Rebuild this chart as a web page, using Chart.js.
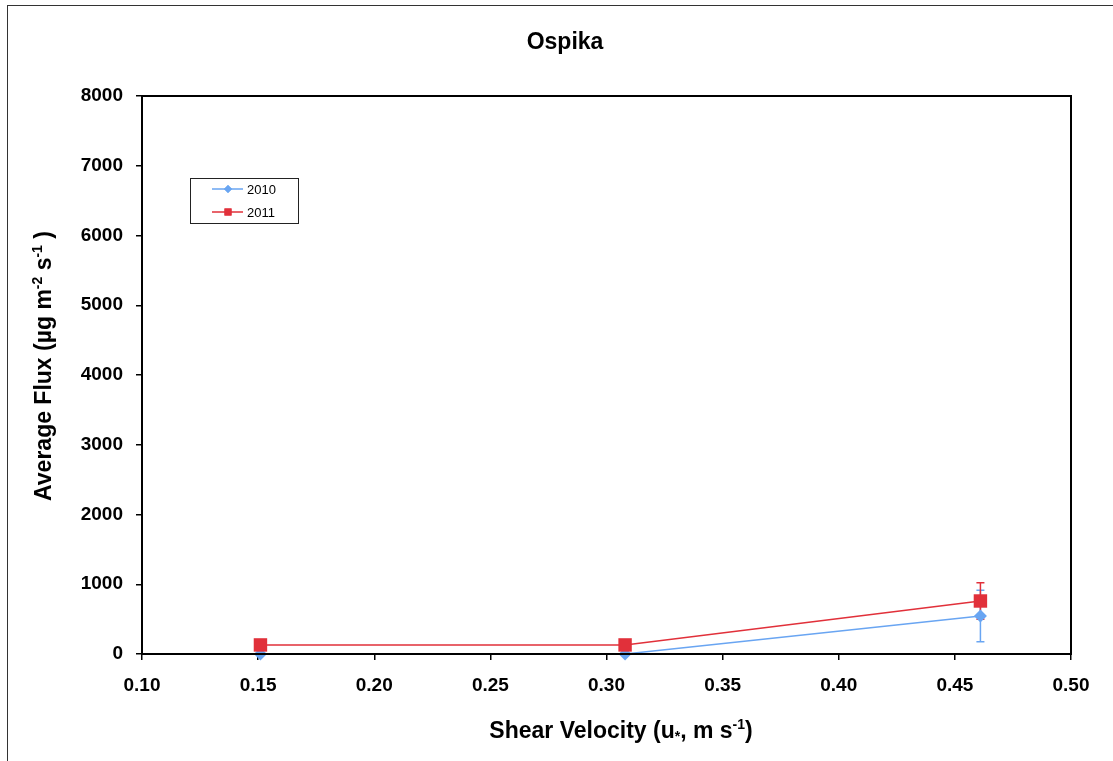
<!DOCTYPE html>
<html>
<head>
<meta charset="utf-8">
<style>
  html, body { margin: 0; padding: 0; background: #ffffff; }
  #wrap { position: relative; width: 1113px; height: 761px; }
  canvas { display: block; }
</style>
<script src="https://cdn.jsdelivr.net/npm/chart.js@4.4.1/dist/chart.umd.min.js"></script>
</head>
<body>
<div id="wrap"><canvas id="c" width="1113" height="761"></canvas></div>
<script>
// Shear velocity (m/s) and average flux (µg m-2 s-1) per year
const velocity2010 = [0.151, 0.308, 0.461];
const flux2010     = [0, 0, 545];
const err2010      = [0, 0, 370];

const velocity2011 = [0.151, 0.308, 0.461];
const flux2011     = [130, 130, 760];
const err2011      = [0, 0, 260];

const xTicks = [0.10, 0.15, 0.20, 0.25, 0.30, 0.35, 0.40, 0.45, 0.50];
const yTicks = [0, 1000, 2000, 3000, 4000, 5000, 6000, 7000, 8000];

const BLUE = '#69A5F2';
const RED = '#E1303A';
const FONT = '"Liberation Sans", Arial, Helvetica, sans-serif';

function pts(xs, ys) { return xs.map((x, i) => ({ x: x, y: ys[i] })); }

// Vertical error bars with caps, drawn through the chart scales
const errorBars = {
  id: 'errorBars',
  beforeDatasetsDraw(chart) {
    const { ctx, scales: { x, y } } = chart;
    const sets = [
      { xs: velocity2010, ys: flux2010, es: err2010, color: BLUE },
      { xs: velocity2011, ys: flux2011, es: err2011, color: RED }
    ];
    ctx.save();
    ctx.lineWidth = 1.5;
    sets.forEach(s => {
      ctx.strokeStyle = s.color;
      s.xs.forEach((vx, i) => {
        if (!s.es[i]) return;
        const px = x.getPixelForValue(vx);
        const top = y.getPixelForValue(s.ys[i] + s.es[i]);
        const bot = y.getPixelForValue(s.ys[i] - s.es[i]);
        ctx.beginPath();
        ctx.moveTo(px, top); ctx.lineTo(px, bot);
        ctx.moveTo(px - 4, top); ctx.lineTo(px + 4, top);
        ctx.moveTo(px - 4, bot); ctx.lineTo(px + 4, bot);
        ctx.stroke();
      });
    });
    ctx.restore();
  }
};

// Frame, plot box, titles and legend
const decorations = {
  id: 'decorations',
  beforeDraw(chart) {
    const { ctx } = chart;
    ctx.save();
    ctx.fillStyle = '#ffffff';
    ctx.fillRect(0, 0, chart.width, chart.height);
    ctx.strokeStyle = '#333333';
    ctx.lineWidth = 1;
    ctx.strokeRect(7.5, 5.5, 1200, 900);
    ctx.restore();
  },
  afterDraw(chart) {
    const { ctx, chartArea: a } = chart;
    ctx.save();
    // plot box
    ctx.strokeStyle = '#000000';
    ctx.lineWidth = 2;
    ctx.strokeRect(a.left, a.top, a.right - a.left, a.bottom - a.top);

    ctx.fillStyle = '#000000';
    ctx.textBaseline = 'middle';
    // title
    ctx.font = 'bold 23px ' + FONT;
    ctx.textAlign = 'center';
    ctx.fillText('Ospika', 565, 43);

    // x axis title with subscript and superscript
    const big = 'bold 23px ' + FONT, small = 'bold 14px ' + FONT;
    const partsX = [
      { t: 'Shear Velocity (u', f: big, dy: 0 },
      { t: '*', f: small, dy: 5 },
      { t: ', m s', f: big, dy: 0 },
      { t: '-1', f: small, dy: -7 },
      { t: ')', f: big, dy: 0 }
    ];
    let w = 0;
    partsX.forEach(p => { ctx.font = p.f; p.w = ctx.measureText(p.t).width; w += p.w; });
    let cx = 621 - w / 2;
    ctx.textAlign = 'left';
    partsX.forEach(p => { ctx.font = p.f; ctx.fillText(p.t, cx, 732 + p.dy); cx += p.w; });

    // y axis title, rotated
    const partsY = [
      { t: 'Average Flux (µg m', f: big, dy: 0 },
      { t: '-2', f: small, dy: -7 },
      { t: ' s', f: big, dy: 0 },
      { t: '-1', f: small, dy: -7 },
      { t: ' )', f: big, dy: 0 }
    ];
    w = 0;
    partsY.forEach(p => { ctx.font = p.f; p.w = ctx.measureText(p.t).width; w += p.w; });
    ctx.translate(45, 366);
    ctx.rotate(-Math.PI / 2);
    cx = -w / 2;
    partsY.forEach(p => { ctx.font = p.f; ctx.fillText(p.t, cx, p.dy); cx += p.w; });
    ctx.setTransform(1, 0, 0, 1, 0, 0);

    // legend
    ctx.strokeStyle = '#222222';
    ctx.lineWidth = 1;
    ctx.strokeRect(190.5, 178.5, 108, 45);
    ctx.font = '13px ' + FONT;
    const entries = [
      { label: '2010', color: BLUE, style: 'rectRot', r: 4, y: 189 },
      { label: '2011', color: RED, style: 'rect', r: 5, y: 212 }
    ];
    entries.forEach(e => {
      ctx.strokeStyle = e.color;
      ctx.lineWidth = 1.5;
      ctx.beginPath();
      ctx.moveTo(212, e.y); ctx.lineTo(243, e.y);
      ctx.stroke();
      ctx.fillStyle = e.color;
      Chart.helpers.drawPoint(ctx, { pointStyle: e.style, radius: e.r, borderWidth: 0 }, 228, e.y);
      ctx.fill();
      ctx.fillStyle = '#000000';
      ctx.fillText(e.label, 247, e.y + 1);
    });
    ctx.restore();
  }
};

new Chart(document.getElementById('c'), {
  type: 'scatter',
  data: {
    datasets: [
      {
        label: '2010',
        data: pts(velocity2010, flux2010),
        showLine: true,
        borderColor: BLUE,
        backgroundColor: BLUE,
        borderWidth: 1.5,
        pointStyle: 'rectRot',
        pointRadius: 6.5,
        pointBorderWidth: 0,
        clip: false,
        order: 1
      },
      {
        label: '2011',
        data: pts(velocity2011, flux2011),
        showLine: true,
        borderColor: RED,
        backgroundColor: RED,
        borderWidth: 1.5,
        pointStyle: 'rect',
        pointRadius: 9.5,
        pointBorderWidth: 0,
        clip: false,
        order: 0
      }
    ]
  },
  options: {
    responsive: false,
    animation: false,
    events: [],
    layout: { padding: { top: 96, right: 42, left: 0, bottom: 0 } },
    plugins: { legend: { display: false }, tooltip: { enabled: false }, title: { display: false } },
    scales: {
      x: {
        type: 'linear',
        min: 0.10, max: 0.50,
        afterFit(s) { s.height = 107; },
        afterBuildTicks(s) { s.ticks = xTicks.map(v => ({ value: v })); },
        grid: { drawOnChartArea: false, tickLength: 6, color: '#000000', lineWidth: 1.5 },
        border: { display: true, color: '#000000', width: 2 },
        ticks: {
          color: '#000000',
          padding: 14,
          maxRotation: 0,
          font: { family: FONT, size: 19, weight: 'bold' },
          callback: v => v.toFixed(2)
        }
      },
      y: {
        type: 'linear',
        min: 0, max: 8000,
        afterFit(s) { s.width = 142; },
        afterBuildTicks(s) { s.ticks = yTicks.map(v => ({ value: v })); },
        grid: { drawOnChartArea: false, tickLength: 6, color: '#000000', lineWidth: 1.5 },
        border: { display: true, color: '#000000', width: 2 },
        ticks: {
          color: '#000000',
          padding: 13,
          font: { family: FONT, size: 19, weight: 'bold' },
          callback: v => String(v)
        }
      }
    }
  },
  plugins: [decorations, errorBars]
});
</script>
</body>
</html>
